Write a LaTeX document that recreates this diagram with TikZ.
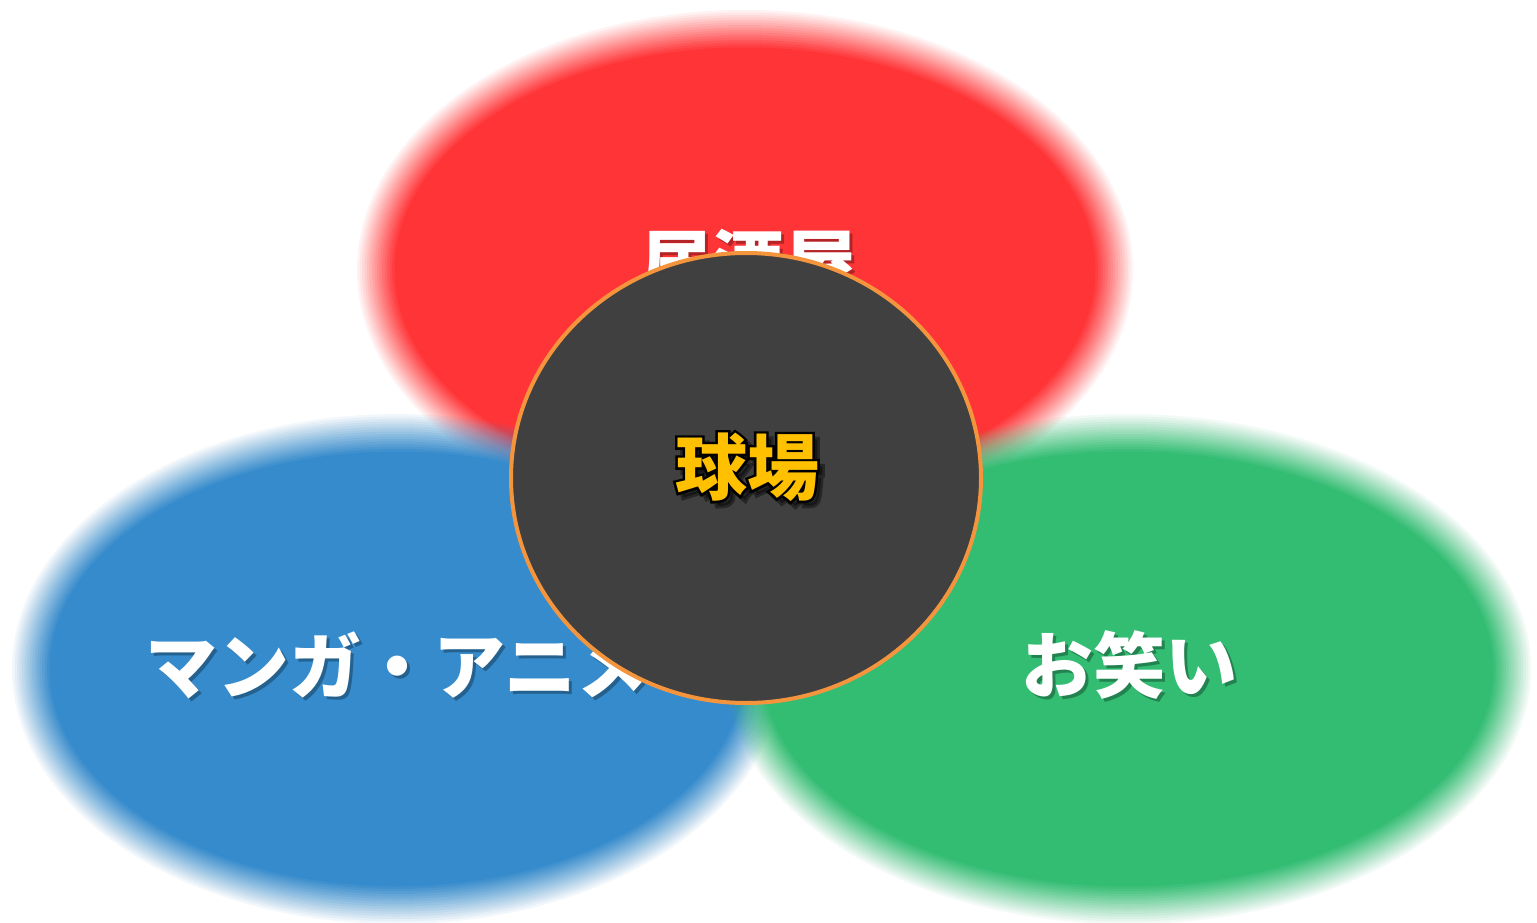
\documentclass[tikz,border=0pt]{standalone}
\usepackage{fontspec}
\newfontfamily\jpfont{Noto Sans CJK JP}
\definecolor{cred}{HTML}{FF3436}
\definecolor{cblue}{HTML}{368BCC}
\definecolor{cgreen}{HTML}{33BD73}
\definecolor{cdark}{HTML}{404040}
\definecolor{corange}{HTML}{F4953D}
\definecolor{cgold}{HTML}{FFC000}
\newcommand\softellipse[6]{% colour, cx, cy, rx, ry, blur width
  \foreach \k in {1,...,16}{%
    \pgfmathsetmacro\myoff{#6/2-(\k-1)*#6/16}%
    \pgfmathsetmacro\myrx{#4+\myoff}%
    \pgfmathsetmacro\myry{#5+\myoff}%
    \pgfmathsetmacro\myop{1/(16-\k+1)}%
    \fill[#1,opacity=\myop] (#2,#3) ellipse[x radius=\myrx, y radius=\myry];
  }%
}
\newcommand\strokedtext[1]{\special{pdf:literal direct 2 Tr 5 w 0 0 0 RG}#1\special{pdf:literal direct 0 Tr}}
\tikzset{
  lbl/.style={font=\jpfont\bfseries\fontsize{72}{80}\selectfont, text=white, inner sep=0pt},
  lblshadow/.style={lbl, text=black, opacity=0.3},
  goldlbl/.style={font=\jpfont\bfseries\fontsize{72}{80}\selectfont, text=cgold, inner sep=0pt},
}
\begin{document}
\begin{tikzpicture}[x=1pt,y=-1pt]
\useasboundingbox (0,0) rectangle (1537,923);
\fill[white] (0,0) rectangle (1537,923);
% soft ellipses
\softellipse{cred}{745}{270}{368}{240}{40}
\softellipse{cblue}{397}{669}{365}{235}{40}
\softellipse{cgreen}{1128}{669}{383}{235}{40}
% labels under the circle
\node[lblshadow] at (751,266) {居酒屋};
\node[lbl] (izakaya) at (748,263) {居酒屋};
\node[lblshadow] at (400,668) {マンガ・アニメ};
\node[lbl] (manga) at (397,665) {マンガ・アニメ};
\node[lblshadow] at (1132,668) {お笑い};
\node[lbl] (owarai) at (1129,665) {お笑い};
% centre circle
\draw[corange, line width=4pt, fill=cdark] (746,478) ellipse[x radius=235, y radius=225];
\coordinate (ctr) at (746,478);
% gold label: soft shadow, black outline, gold face
\node[goldlbl, text=black, opacity=0.4] at (752,472) {\strokedtext{球場}};
\node[goldlbl, text=black] at (747,467) {\strokedtext{球場}};
\node[goldlbl] (kyujo) at (747,467) {球場};
\end{tikzpicture}
\end{document}
